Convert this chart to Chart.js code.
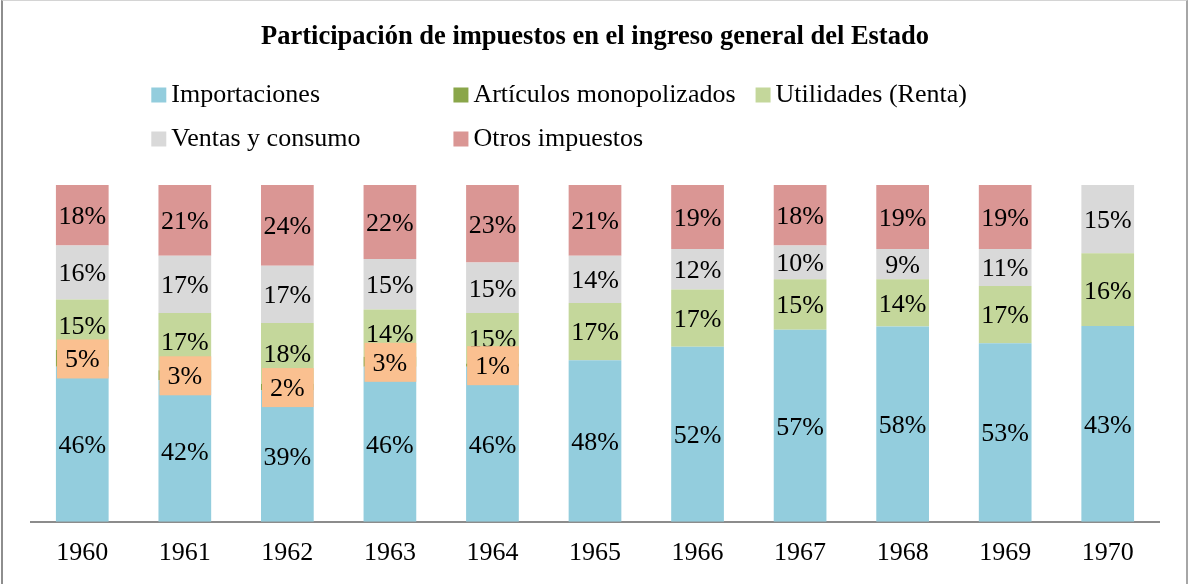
<!DOCTYPE html>
<html>
<head>
<meta charset="utf-8">
<title>Participación de impuestos en el ingreso general del Estado</title>
<script src="https://cdn.jsdelivr.net/npm/chart.js@4.4.1/dist/chart.umd.min.js"></script>
<style>
    html, body { margin: 0; padding: 0; background: #fff; }
    #wrap { position: relative; width: 1189px; height: 584px; }
    #frame {
        position: absolute; left: 1px; top: 0; width: 1187px; height: 584px;
        box-sizing: border-box; pointer-events: none;
        border-left: 2px solid #8e8e8e; border-right: 2px solid #a6a6a6; border-top: 1px solid #d4d4d4;
    }
</style>
</head>
<body>
<div id="wrap">
    <canvas id="taxChart"></canvas>
    <div id="frame"></div>
</div>
<script>
var years = ['1960', '1961', '1962', '1963', '1964', '1965', '1966', '1967', '1968', '1969', '1970'];

// percentages as printed on the bars
var importaciones = [46, 42, 39, 46, 46, 48, 52, 57, 58, 53, 43];
var monopolizados = [5, 3, 2, 3, 1, 0, 0, 0, 0, 0, 0];
var utilidades    = [15, 17, 18, 14, 15, 17, 17, 15, 14, 17, 16];
var ventas        = [16, 17, 17, 15, 15, 14, 12, 10, 9, 11, 15];
var otros         = [18, 21, 24, 22, 23, 21, 19, 18, 19, 19, 0];

var seriesNames = ['Importaciones', 'Artículos monopolizados', 'Utilidades (Renta)', 'Ventas y consumo', 'Otros impuestos'];
var seriesColors = ['#93CDDD', '#8AA64A', '#C4D79B', '#D9D9D9', '#DA9694'];
var labelBoxColor = '#FAC090';

var FONT = '"Liberation Serif", "Times New Roman", serif';
var allSeries = [importaciones, monopolizados, utilidades, ventas, otros];

// each bar is 100% stacked, so plot every value as a share of its year total
var totals = years.map(function (y, i) {
    return allSeries.reduce(function (sum, arr) { return sum + arr[i]; }, 0);
});

function toShare(values) {
    return values.map(function (v, i) { return v / totals[i] * 100; });
}

var segmentLabels = {
    id: 'segmentLabels',
    afterDatasetsDraw: function (chart) {
        var ctx = chart.ctx;
        ctx.save();
        ctx.font = '26px ' + FONT;
        ctx.textAlign = 'center';
        ctx.textBaseline = 'middle';
        // the boxed labels (monopolizados) sit on top of the others
        [0, 2, 3, 4, 1].forEach(function (di) {
            var meta = chart.getDatasetMeta(di);
            meta.data.forEach(function (bar, i) {
                var raw = allSeries[di][i];
                if (!raw) return;
                var cy = (bar.y + bar.base) / 2;
                if (di === 1) {
                    ctx.fillStyle = labelBoxColor;
                    ctx.fillRect(bar.x - bar.width / 2 + 1, cy - 19, bar.width - 1, 39);
                }
                ctx.fillStyle = '#000';
                ctx.fillText(raw + '%', bar.x, cy + 2);
            });
        });
        ctx.restore();
    }
};

var gridLegend = {
    id: 'gridLegend',
    afterDraw: function (chart) {
        var ctx = chart.ctx;
        var box = 15, gap = 5, spacing = 20, cols = 3, firstRow = 95, rowH = 44;
        ctx.save();
        ctx.font = '26px ' + FONT;
        ctx.textAlign = 'left';
        ctx.textBaseline = 'middle';
        var widest = 0;
        seriesNames.forEach(function (name) {
            widest = Math.max(widest, box + gap + ctx.measureText(name).width);
        });
        var colW = widest + spacing;
        var x0 = (chart.width - (cols * colW - spacing)) / 2;
        seriesNames.forEach(function (name, k) {
            var x = x0 + (k % cols) * colW;
            var y = firstRow + Math.floor(k / cols) * rowH;
            ctx.fillStyle = seriesColors[k];
            ctx.fillRect(x, y - box / 2, box, box);
            ctx.fillStyle = '#000';
            ctx.fillText(name, x + box + gap, y);
        });
        ctx.restore();
    }
};

new Chart(document.getElementById('taxChart'), {
    type: 'bar',
    data: {
        labels: years,
        datasets: seriesNames.map(function (name, k) {
            return {
                label: name,
                data: toShare(allSeries[k]),
                backgroundColor: seriesColors[k],
                borderWidth: 0,
                categoryPercentage: 1,
                barPercentage: 0.514
            };
        })
    },
    options: {
        responsive: true,
        maintainAspectRatio: false,
        animation: false,
        layout: { padding: { left: 31, right: 30, top: 0, bottom: 0 } },
        scales: {
            x: {
                stacked: true,
                grid: { display: false, drawTicks: false },
                border: { display: true, color: '#8c8c8c', width: 2 },
                ticks: { color: '#000', padding: 15.5, font: { family: FONT, size: 26 } }
            },
            y: { stacked: true, display: false, min: 0, max: 100 }
        },
        plugins: {
            legend: { display: false },
            tooltip: { enabled: false },
            title: {
                display: true,
                text: 'Participación de impuestos en el ingreso general del Estado',
                color: '#000',
                font: { family: FONT, size: 26.5, weight: 'bold' },
                padding: { top: 21, bottom: 132.2 }
            }
        }
    },
    plugins: [segmentLabels, gridLegend]
});
</script>
</body>
</html>
